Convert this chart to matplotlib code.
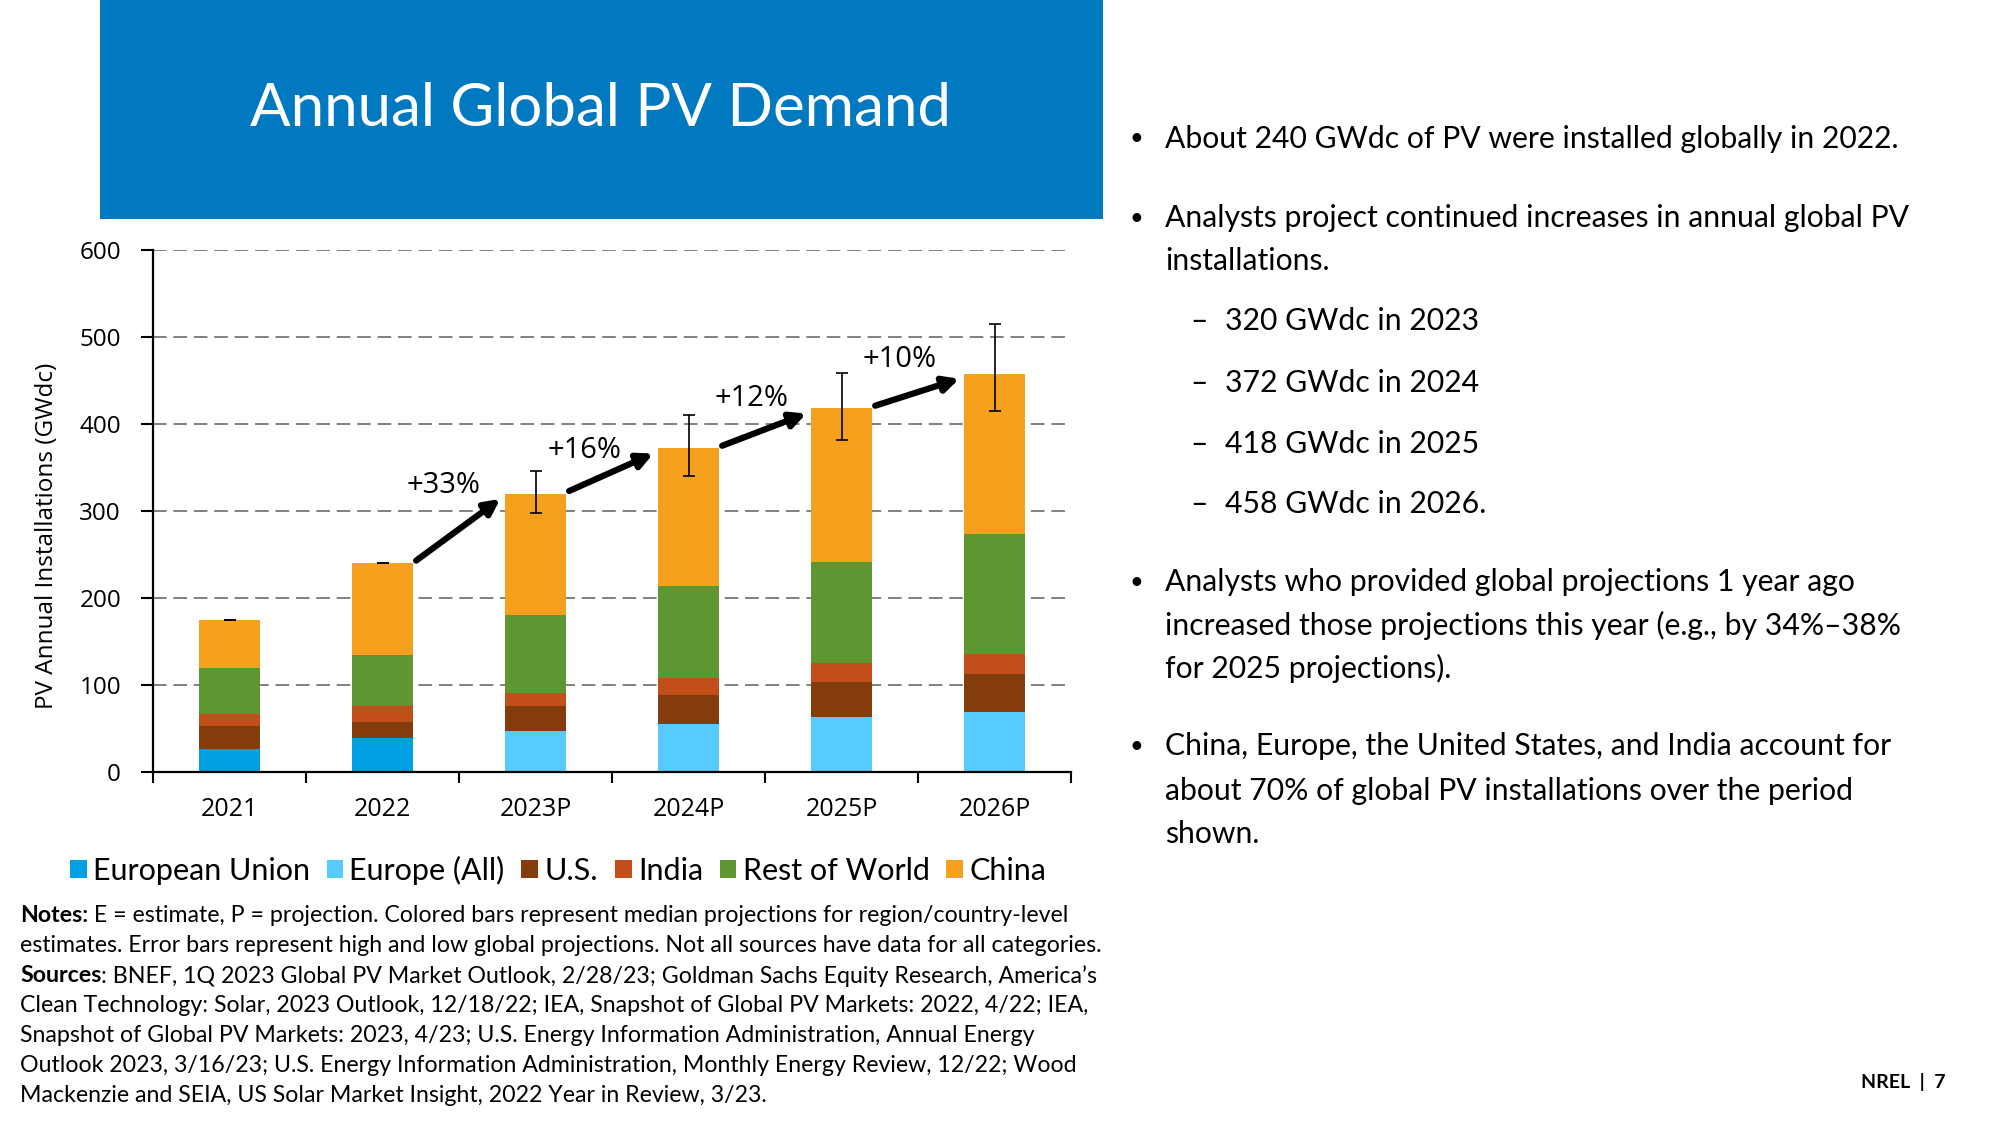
import matplotlib
matplotlib.use('Agg')
import matplotlib.pyplot as plt
import numpy as np
from matplotlib.patches import Rectangle, Patch

# ---------------- data ----------------
years = ['2021', '2022', '2023P', '2024P', '2025P', '2026P']
european_union = [26, 39, 0, 0, 0, 0]
europe_all = [0, 0, 47, 55, 63, 69]
us = [27, 18, 29, 33, 40, 44]
india = [14, 19, 15, 20, 22, 23]
rest_of_world = [53, 58, 89, 106, 116, 137]
china = [55, 106, 140, 158, 177, 185]
err_low = [175, 240, 298, 340, 382, 415]
err_high = [175, 240, 346, 410, 459, 515]
y_ticks = [0, 100, 200, 300, 400, 500, 600]

series_names = ['European Union', 'Europe (All)', 'U.S.', 'India', 'Rest of World', 'China']
series_vals = [european_union, europe_all, us, india, rest_of_world, china]
series_colors = ['#00A0E3', '#57CBFF', '#843C0C', '#C24E19', '#5E9732', '#F5A11D']

title = 'Annual Global PV Demand'
bullets = [
    ('b', 'About 240 GWdc of PV were installed globally in 2022.'),
    ('b', 'Analysts project continued increases in annual global PV'),
    ('c', 'installations.'),
    ('d', '320 GWdc in 2023'),
    ('d', '372 GWdc in 2024'),
    ('d', '418 GWdc in 2025'),
    ('d', '458 GWdc in 2026.'),
    ('b', 'Analysts who provided global projections 1 year ago'),
    ('c', 'increased those projections this year (e.g., by 34%\u201338%'),
    ('c', 'for 2025 projections).'),
    ('b', 'China, Europe, the United States, and India account for'),
    ('c', 'about 70% of global PV installations over the period'),
    ('c', 'shown.'),
]
bullet_y = [139, 218, 261, 321, 383, 444, 504, 582, 625, 668, 746, 791, 834]

notes = [
    ('Notes:', ' E = estimate, P = projection. Colored bars represent median projections for region/country-level'),
    ('', 'estimates. Error bars represent high and low global projections. Not all sources have data for all categories.'),
    ('Sources', ': BNEF, 1Q 2023 Global PV Market Outlook, 2/28/23; Goldman Sachs Equity Research, America\u2019s'),
    ('', 'Clean Technology: Solar, 2023 Outlook, 12/18/22; IEA, Snapshot of Global PV Markets: 2022, 4/22; IEA,'),
    ('', 'Snapshot of Global PV Markets: 2023, 4/23; U.S. Energy Information Administration, Annual Energy'),
    ('', 'Outlook 2023, 3/16/23; U.S. Energy Information Administration, Monthly Energy Review, 12/22; Wood'),
    ('', 'Mackenzie and SEIA, US Solar Market Insight, 2022 Year in Review, 3/23.'),
]
notes_y = [916, 946, 976, 1006, 1036, 1066, 1096]

# ---------------- figure ----------------
W, H = 2000, 1125
fig = plt.figure(figsize=(20, 11.25), dpi=100)
fig.patch.set_facecolor('white')

def fx(px):
    return px / W

def fy(py):
    return 1 - py / H

BODY = 'Lato'
AXF = 'Open Sans'

# banner
fig.patches.append(Rectangle((fx(100), fy(219)), fx(1103) - fx(100), fy(0) - fy(219),
                             transform=fig.transFigure, facecolor='#0079C1', edgecolor='none', zorder=0))
fig.text(fx(601), fy(109), title, color='white', fontsize=43.2, family=BODY, fontweight='normal',
         ha='center', va='center')

# axes
ax = fig.add_axes([fx(153), fy(772), (1071 - 153) / W, (772 - 250) / H])
x = np.arange(len(years))
bottom = np.zeros(len(years))
handles = []
for name, vals, col in zip(series_names, series_vals, series_colors):
    v = np.array(vals, dtype=float)
    ax.bar(x, v, width=0.4, bottom=bottom, color=col, edgecolor='none', zorder=3)
    bottom += v
    handles.append(Patch(facecolor=col, edgecolor='none', label=name))
totals = bottom.copy()

lo = np.array(err_low, dtype=float)
hi = np.array(err_high, dtype=float)
ax.errorbar(x, totals, yerr=[totals - lo, hi - totals], fmt='none', ecolor='black',
            elinewidth=1.2, capsize=4.5, capthick=1.2, zorder=5)

ax.set_xlim(-0.5, len(years) - 0.5)
ax.set_ylim(0, 600)
ax.set_yticks(y_ticks)
ax.set_yticklabels([str(t) for t in y_ticks], family=AXF, fontsize=17.5)
ax.set_xticks(np.arange(-0.5, len(years)), minor=False)
ax.set_xticklabels([''] * (len(years) + 1))
ax.set_xticks(x, minor=True)
ax.set_xticklabels(years, minor=True, family=AXF, fontsize=18)
ax.tick_params(axis='x', which='major', direction='out', length=8, width=1.5, color='black')
ax.tick_params(axis='x', which='minor', length=0, pad=18)
ax.tick_params(axis='y', direction='out', length=9, width=1.5, pad=14)
for s in ['top', 'right']:
    ax.spines[s].set_visible(False)
for s in ['left', 'bottom']:
    ax.spines[s].set_linewidth(1.6)
    ax.spines[s].set_zorder(6)
ax.yaxis.grid(True, color='#808080', linewidth=1.4, linestyle=(0, (7, 3.5)), zorder=1)
ax.set_axisbelow(True)

# growth arrows and labels
label_pos = [(1.40, 329), (2.32, 370), (3.41, 429), (4.38, 474)]
for i in range(1, len(years) - 1):
    pct = int(round((totals[i + 1] / totals[i] - 1) * 100))
    ax.annotate('', xy=(i + 0.77, totals[i + 1] - 6), xytext=(i + 0.22, totals[i] + 3),
                arrowprops=dict(arrowstyle='-|>,head_length=0.9,head_width=0.45', color='black',
                                lw=4.5, shrinkA=0, shrinkB=0), zorder=7)
    lx, ly = label_pos[i - 1]
    ax.text(lx, ly, '+%d%%' % pct, family=AXF, fontsize=21, ha='center', va='center', zorder=7)

fig.text(fx(47), fy(536), 'PV Annual Installations (GWdc)', rotation=90, family=AXF,
         fontsize=17.5, ha='center', va='center')

# legend
fig.legend(handles=handles, loc='center', bbox_to_anchor=(fx(558), fy(870)), ncol=6, frameon=False,
           prop={'family': BODY, 'size': 22}, handlelength=0.55, handleheight=0.55,
           handletextpad=0.2, columnspacing=0.55, borderaxespad=0)

# bullets
for (kind, txt), yy in zip(bullets, bullet_y):
    if kind == 'b':
        fig.text(fx(1130), fy(yy), '\u2022', family=BODY, fontsize=17, ha='left', va='center')
        fig.text(fx(1165), fy(yy), txt, family=BODY, fontsize=21.7, ha='left', va='center')
    elif kind == 'c':
        fig.text(fx(1165), fy(yy), txt, family=BODY, fontsize=21.7, ha='left', va='center')
    else:
        fig.text(fx(1190), fy(yy), '\u2013', family=BODY, fontsize=21.7, ha='left', va='center')
        fig.text(fx(1225), fy(yy), txt, family=BODY, fontsize=21.7, ha='left', va='center')

# notes
renderer = fig.canvas.get_renderer()
for (bold, rest), yy in zip(notes, notes_y):
    xpos = fx(20)
    if bold:
        t = fig.text(xpos, fy(yy), bold, family=BODY, fontsize=16.7, fontweight='bold', ha='left', va='center')
        bb = t.get_window_extent(renderer=renderer)
        xpos = bb.x1 / W
    fig.text(xpos, fy(yy), rest, family=BODY, fontsize=16.7, ha='left', va='center')

fig.text(fx(1903), fy(1082), 'NREL  |  7', family=BODY, fontsize=14, fontweight='bold',
         ha='center', va='center')

fig.savefig('out.png', dpi=100, facecolor='white')
